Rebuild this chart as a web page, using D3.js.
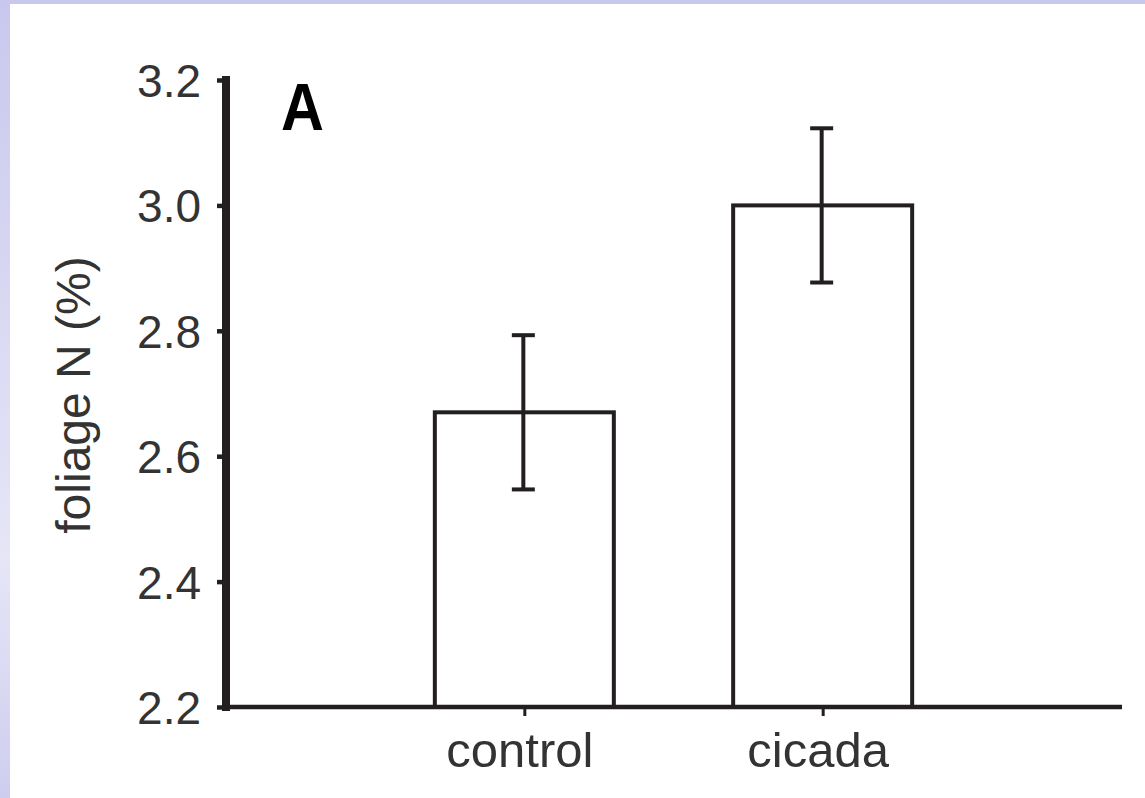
<!DOCTYPE html>
<html>
<head>
<meta charset="utf-8">
<script src="https://cdn.jsdelivr.net/npm/d3@7/dist/d3.min.js"></script>
<style>
html,body{margin:0;padding:0;background:#fff;}
svg{display:block;}
</style>
</head>
<body>
<script>
const categories = ["control", "cicada"];
const values = [2.67, 3.0];
const errors = [0.123, 0.123];
const yTicks = [2.2, 2.4, 2.6, 2.8, 3.0, 3.2];
const yLabel = "foliage N (%)";
const panelLabel = "A";

const W = 1145, H = 798;
const svg = d3.select("body").append("svg").attr("width", W).attr("height", H);

const defs = svg.append("defs");
const grad = defs.append("linearGradient").attr("id", "lav").attr("x1", 0).attr("y1", 0).attr("x2", 0).attr("y2", 1);
grad.append("stop").attr("offset", "0").attr("stop-color", "#c8c8ee");
grad.append("stop").attr("offset", "0.7").attr("stop-color", "#e6e6f7");
grad.append("stop").attr("offset", "1").attr("stop-color", "#cdcdef");
svg.append("rect").attr("width", W).attr("height", H).attr("fill", "url(#lav)");
svg.append("rect").attr("x", 0).attr("y", 0).attr("width", W).attr("height", 4).attr("fill", "#c8c8ee");
svg.append("rect").attr("x", 10).attr("y", 4).attr("width", W - 10).attr("height", H - 4).attr("fill", "#fff");

const ink = "#231f20";
const x0 = 226, x1 = 1121;
const y = d3.scaleLinear().domain([2.2, 3.2]).range([707, 80]);
const x = d3.scalePoint().domain(categories).range([x0, x1]).padding(1);
const barW = x.step() * 0.6;

// bars
svg.selectAll("rect.bar").data(categories).enter().append("rect")
  .attr("class", "bar")
  .attr("x", (d) => x(d) - barW / 2)
  .attr("y", (d, i) => y(values[i]))
  .attr("width", barW)
  .attr("height", (d, i) => y(2.2) - y(values[i]))
  .attr("fill", "#fff").attr("stroke", ink).attr("stroke-width", 4);

// error bars
const cap = 23;
const eg = svg.append("g").attr("stroke", ink).attr("stroke-width", 4).attr("fill", "none");
categories.forEach((c, i) => {
  const cx = x(c) - 1;
  eg.append("line").attr("x1", cx).attr("x2", cx).attr("y1", y(values[i] + errors[i])).attr("y2", y(values[i] - errors[i]));
  eg.append("line").attr("x1", cx - cap / 2).attr("x2", cx + cap / 2).attr("y1", y(values[i] + errors[i])).attr("y2", y(values[i] + errors[i]));
  eg.append("line").attr("x1", cx - cap / 2).attr("x2", cx + cap / 2).attr("y1", y(values[i] - errors[i])).attr("y2", y(values[i] - errors[i]));
});

// x axis
const xAxis = d3.axisBottom(x).tickSize(9).tickPadding(16).tickSizeOuter(0);
const gx = svg.append("g").attr("transform", `translate(0,${y(2.2)})`).call(xAxis);
gx.select(".domain").attr("d", `M${222},0H${1122}`).attr("stroke", ink).attr("stroke-width", 4.5);
gx.selectAll(".tick line").attr("stroke", ink).attr("stroke-width", 3);
gx.selectAll(".tick text").attr("font-family", "'Liberation Sans', Arial, Helvetica, sans-serif")
  .attr("font-size", 49).attr("fill", "#333").attr("dy", "0.71em").attr("dx", -5);

// y axis
const yAxis = d3.axisLeft(y).tickValues(yTicks).tickFormat(d3.format(".1f")).tickSize(9).tickPadding(16).tickSizeOuter(0);
const gy = svg.append("g").attr("transform", `translate(${x0},0)`).call(yAxis);
gy.select(".domain").attr("d", `M0,${76}V${711}`).attr("stroke", ink).attr("stroke-width", 8);
gy.selectAll(".tick line").attr("stroke", ink).attr("stroke-width", 4.5);
gy.selectAll(".tick text").attr("font-family", "'Liberation Sans', Arial, Helvetica, sans-serif")
  .attr("font-size", 46).attr("fill", "#333").attr("dy", "0.36em");

// y label
svg.append("text")
  .attr("transform", `translate(90,395) rotate(-90)`)
  .attr("text-anchor", "middle")
  .attr("font-family", "'Liberation Sans', Arial, Helvetica, sans-serif")
  .attr("font-size", 48).attr("fill", "#333")
  .text(yLabel);

// panel label
svg.append("text")
  .attr("transform", "translate(281,130) scale(0.9,1)")
  .attr("font-family", "'Liberation Sans', Arial, sans-serif")
  .attr("font-weight", "bold").attr("font-size", 66).attr("fill", "#000")
  .text(panelLabel);
</script>
</body>
</html>
